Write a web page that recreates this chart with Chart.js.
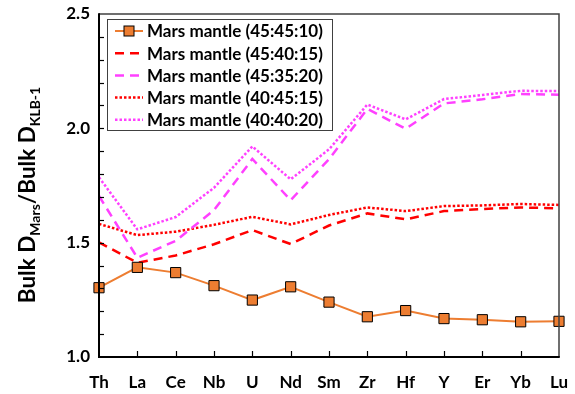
<!DOCTYPE html>
<html>
<head>
<meta charset="utf-8">
<script src="https://cdn.jsdelivr.net/npm/chart.js@4.4.1/dist/chart.umd.min.js"></script>
<style>
html,body{margin:0;padding:0;background:#fff;}
canvas{display:block;}
</style>
</head>
<body>
<canvas id="c" width="575" height="394"></canvas>
<script>
const categories = ['Th','La','Ce','Nb','U','Nd','Sm','Zr','Hf','Y','Er','Yb','Lu'];
const seriesNames = ['Mars mantle (45:45:10)','Mars mantle (45:40:15)','Mars mantle (45:35:20)','Mars mantle (40:45:15)','Mars mantle (40:40:20)'];
const mantle_45_45_10 = [1.303,1.392,1.369,1.312,1.249,1.307,1.240,1.176,1.203,1.168,1.163,1.154,1.156];
const mantle_45_40_15 = [1.501,1.412,1.444,1.493,1.555,1.494,1.575,1.628,1.602,1.638,1.647,1.654,1.650];
const mantle_45_35_20 = [1.704,1.434,1.508,1.642,1.866,1.686,1.865,2.085,1.998,2.109,2.127,2.150,2.147];
const mantle_40_45_15 = [1.582,1.533,1.548,1.578,1.613,1.580,1.621,1.654,1.638,1.660,1.663,1.669,1.665];
const mantle_40_40_20 = [1.786,1.558,1.612,1.740,1.921,1.777,1.908,2.104,2.039,2.128,2.146,2.164,2.163];
const yTickLabels = ['1.0','1.5','2.0','2.5'];

const FONT = "Lato, 'Open Sans', 'DejaVu Sans', sans-serif";
const ORANGE = '#ED7D31', RED = '#FF0000', MAG = '#FF40FF';
const styles = [
  {color: ORANGE, dash: [], width: 2, marker: true},
  {color: RED, dash: [9,6], width: 2.5},
  {color: MAG, dash: [9,6], width: 2.5},
  {color: RED, dash: [2.5,2], width: 2.5},
  {color: MAG, dash: [2.5,2], width: 2.5}
];
const allData = [mantle_45_45_10, mantle_45_40_15, mantle_45_35_20, mantle_40_45_15, mantle_40_40_20];

const datasets = allData.map((d,i) => ({
  label: seriesNames[i],
  data: d,
  borderColor: styles[i].color,
  backgroundColor: styles[i].color,
  borderWidth: styles[i].width,
  borderDash: styles[i].dash,
  borderCapStyle: 'butt',
  tension: 0,
  fill: false,
  clip: false,
  pointRadius: styles[i].marker ? 7.2 : 0,
  pointHoverRadius: styles[i].marker ? 7.2 : 0,
  pointStyle: 'rect',
  pointBackgroundColor: ORANGE,
  pointBorderColor: '#000',
  pointBorderWidth: 1
}));

const decor = {
  id: 'decor',
  afterDraw(chart) {
    const ctx = chart.ctx;
    const a = chart.chartArea;
    const xs = chart.scales.x, ys = chart.scales.y;
    ctx.save();
    ctx.lineCap = 'butt';
    ctx.strokeStyle = '#404040';
    ctx.lineWidth = 1.5;
    ctx.beginPath();
    ctx.moveTo(a.left, a.top); ctx.lineTo(a.right, a.top); ctx.lineTo(a.right, a.bottom);
    ctx.stroke();
    ctx.strokeStyle = '#000';
    ctx.lineWidth = 2;
    ctx.beginPath();
    ctx.moveTo(a.left, a.top - 0.75); ctx.lineTo(a.left, a.bottom); ctx.lineTo(a.right + 0.75, a.bottom);
    ctx.stroke();
    ctx.lineWidth = 1.2;
    for (let k = 11; k <= 24; k++) {
      const y = Math.round(ys.getPixelForValue(k/10)) + 0.5;
      ctx.beginPath(); ctx.moveTo(a.left, y); ctx.lineTo(a.left + 5, y); ctx.stroke();
    }
    for (let i = 1; i < categories.length - 1; i++) {
      const x = Math.round(xs.getPixelForValue(i)) + 0.5;
      ctx.beginPath(); ctx.moveTo(x, a.bottom); ctx.lineTo(x, a.bottom - 6); ctx.stroke();
    }
    const mainF = "bold 22.5px " + FONT, subF = "bold 14px " + FONT;
    const parts = [['Bulk D', mainF, 0], ['Mars', subF, 4.5], ['/Bulk D', mainF, 0], ['KLB-1', subF, 4.5]];
    let total = 0;
    parts.forEach(p => { ctx.font = p[1]; p.push(ctx.measureText(p[0]).width); total += p[3]; });
    ctx.translate(35, 195);
    ctx.rotate(-Math.PI/2);
    ctx.fillStyle = '#000';
    ctx.textBaseline = 'alphabetic';
    ctx.textAlign = 'left';
    let px = -total/2;
    parts.forEach(p => { ctx.font = p[1]; ctx.fillText(p[0], px, p[2]); px += p[3]; });
    ctx.restore();

    ctx.save();
    ctx.fillStyle = '#fff';
    ctx.fillRect(107.5, 19.5, 225, 111);
    ctx.strokeStyle = '#404040';
    ctx.lineWidth = 1;
    ctx.strokeRect(107.5, 19.5, 225, 111);
    ctx.font = "bold 16px " + FONT;
    const w0 = ctx.measureText(seriesNames[0]).width;
    const fs = 16 * 176 / w0;
    for (let i = 0; i < seriesNames.length; i++) {
      const y = 31 + i * 22.2;
      const s = styles[i];
      ctx.strokeStyle = s.color;
      ctx.lineWidth = s.width;
      ctx.setLineDash(s.dash);
      ctx.beginPath(); ctx.moveTo(115, y); ctx.lineTo(143, y); ctx.stroke();
      ctx.setLineDash([]);
      if (s.marker) {
        ctx.fillStyle = ORANGE; ctx.strokeStyle = '#000'; ctx.lineWidth = 1;
        ctx.fillRect(124, y - 5, 10, 10); ctx.strokeRect(124, y - 5, 10, 10);
      }
      ctx.fillStyle = '#000';
      ctx.font = "bold " + fs.toFixed(2) + "px " + FONT;
      ctx.textBaseline = 'middle';
      ctx.textAlign = 'left';
      ctx.fillText(seriesNames[i], 147, y + 1);
    }
    ctx.restore();
  }
};

new Chart(document.getElementById('c'), {
  type: 'line',
  data: { labels: categories, datasets },
  options: {
    responsive: false,
    devicePixelRatio: 1,
    animation: false,
    events: [],
    layout: { padding: { left: 0, right: 16, top: 14, bottom: 0 } },
    plugins: { legend: { display: false }, tooltip: { enabled: false }, title: { display: false } },
    scales: {
      x: {
        type: 'category',
        offset: false,
        grid: { display: false, drawTicks: false },
        border: { display: false },
        ticks: { color: '#000', font: { family: FONT, size: 17, weight: 'bold' }, padding: 15, maxRotation: 0, autoSkip: false },
        afterFit(s) { s.height = 37; s.paddingLeft = 0; s.paddingRight = 0; }
      },
      y: {
        min: 1, max: 2.5,
        grid: { display: false, drawTicks: false },
        border: { display: false },
        ticks: {
          stepSize: 0.5,
          color: '#000',
          font: { family: FONT, size: 17, weight: 'bold' },
          padding: 9,
          callback: (v) => { const i = Math.round((v - 1) / 0.5); return yTickLabels[i] !== undefined ? yTickLabels[i] : ''; }
        },
        afterFit(s) { s.width = 99; s.paddingTop = 0; s.paddingBottom = 0; }
      }
    }
  },
  plugins: [decor]
});
</script>
</body>
</html>
